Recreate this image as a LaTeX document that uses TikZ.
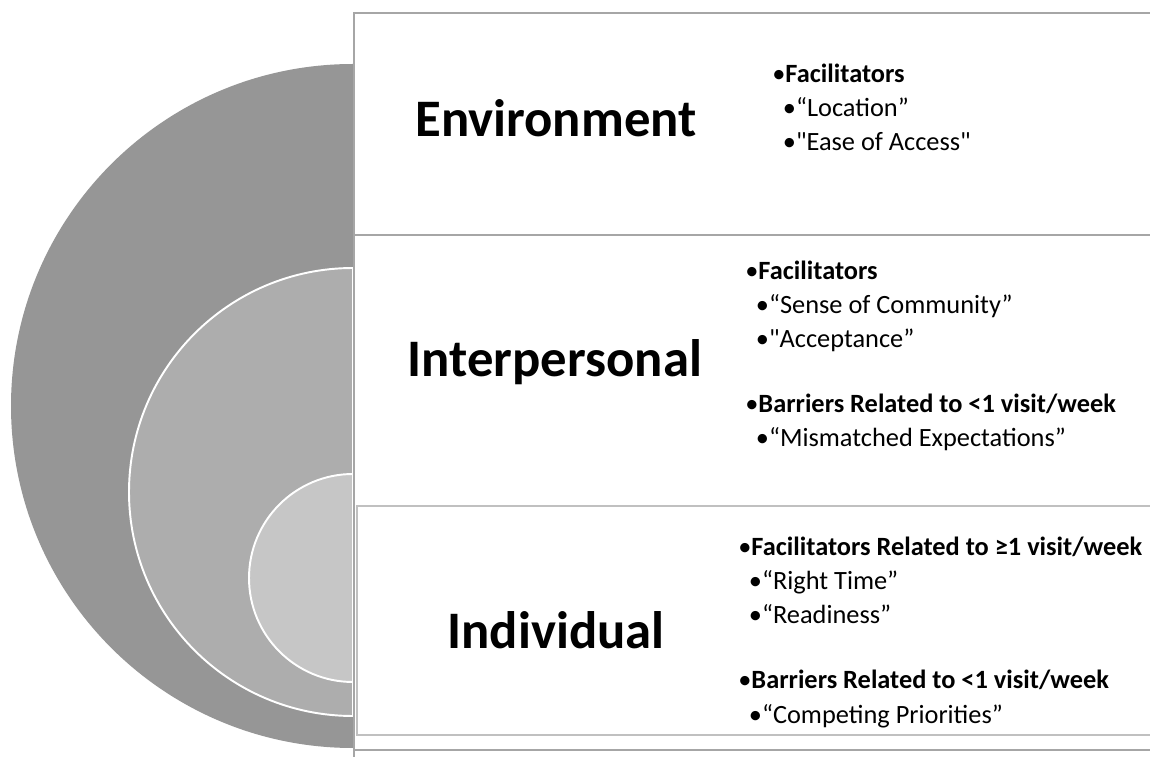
\documentclass[tikz,border=0pt]{standalone}
\usepackage{fontspec}
\setmainfont{Carlito}[Ligatures=TeXOff]
\usepackage{tikz}
\usetikzlibrary{positioning}
\definecolor{ringout}{RGB}{150,150,150}
\definecolor{ringmid}{RGB}{173,173,173}
\definecolor{ringin}{RGB}{198,198,198}
\definecolor{panelline}{RGB}{166,166,166}
\definecolor{panellight}{RGB}{192,192,192}
\tikzset{
  ringouter/.style={fill=ringout},
  ringinner/.style={draw=white, line width=1.1pt},
  panel/.style={draw=panelline, line width=1.2pt},
  levelhead/.style={anchor=base, inner sep=0pt, font=\fontsize{30}{36}\selectfont\bfseries},
  % base of a list node sits on its last line
  levellist/.style={anchor=base west, inner sep=0pt, align=left, font=\fontsize{15}{19.35}\selectfont}
}
\newcommand{\mainpt}[1]{\textbullet\textbf{#1}}
\newcommand{\subpt}[1]{\hspace*{6pt}\textbullet#1}

\begin{document}
\begin{tikzpicture}
  \useasboundingbox (0,0) rectangle (23,15.12);
  \clip (0,0) rectangle (23,15.12);
  % nested half discs
  \fill[ringouter] (7.06,13.84) arc (90:270:6.84) -- cycle;
  \filldraw[ringinner, fill=ringmid] (7.06,9.76) arc (90:270:4.48) -- cycle;
  \filldraw[ringinner, fill=ringin] (7.06,5.64) arc (90:270:2.08) -- cycle;
  % text panels
  \draw[panel] (7.08,14.86) rectangle (23.5,10.42);
  \draw[panel] (7.08,10.42) rectangle (23.5,0.12);
  \draw[panel, draw=panellight] (7.14,5.0) rectangle (23.5,0.42);
  \draw[panel] (7.08,0.12) rectangle (23.5,-1);
  % level names
  \node[levelhead] (envhead) at (11.12,12.38) {Environment};
  \node[levelhead] (interhead) at (11.10,7.58) {Interpersonal};
  \node[levelhead] (indivhead) at (11.12,2.16) {Individual};
  % bullet lists
  \node[levellist] (envlist) at (15.44,12.10)
    {\mainpt{Facilitators}\\ \subpt{“Location”}\\ \subpt{"Ease of Access"}};
  \node[levellist] (interlist) at (14.90,6.18)
    {\mainpt{Facilitators}\\ \subpt{“Sense of Community”}\\ \subpt{"Acceptance”}\\[0.62cm]
     \mainpt{Barriers Related to <1 visit/week}\\ \subpt{“Mismatched Expectations”}};
  \node[levellist] (indivlist) at (14.76,0.66)
    {\mainpt{Facilitators Related to ≥1 visit/week}\\ \subpt{“Right Time”}\\ \subpt{“Readiness”}\\[0.62cm]
     \mainpt{Barriers Related to <1 visit/week}\\ \subpt{“Competing Priorities”}};
\end{tikzpicture}
\end{document}
